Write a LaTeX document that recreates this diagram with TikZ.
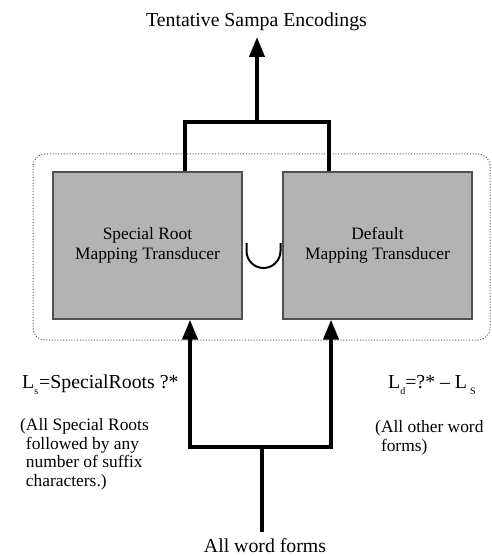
\documentclass[tikz,border=0pt]{standalone}
\usepackage{fontspec}
\setmainfont{Liberation Serif}
\usetikzlibrary{arrows.meta}

\definecolor{boxgray}{RGB}{179,179,179}
\definecolor{boxedge}{RGB}{80,80,80}
\definecolor{frameedge}{RGB}{90,90,90}

\tikzset{
  bigtext/.style={font=\fontsize{19.8}{22}\selectfont, inner sep=0pt},
  smalltext/.style={font=\fontsize{17.4}{18.8}\selectfont, inner sep=0pt},
  transducer/.style={draw=boxedge, line width=1.3pt, fill=boxgray,
    minimum width=189pt, minimum height=147pt, inner sep=0pt, align=center,
    font=\fontsize{17.4}{20}\selectfont},
  conn/.style={line width=4pt, miter limit=10, line join=miter},
  tip/.style={-{Triangle[length=20pt, width=15pt]}},
  frame/.style={draw=frameedge, line width=1pt, dash pattern=on 1pt off 1.8pt,
    rounded corners=12pt},
}

\newcommand{\lowsub}[1]{\raisebox{-6.5pt}{\fontsize{10}{10}\selectfont #1}}

\begin{document}
\begin{tikzpicture}[x=1pt, y=-1pt]
  \useasboundingbox (0,0) rectangle (491,556);

  % dotted enclosure of the union of both transducers
  \draw[frame] (33,154) rectangle (490,340);

  % the two transducers
  \node[transducer] (lbox) at (147.5,245.5) {Special Root\\Mapping Transducer};
  \node[transducer] (rbox) at (377.5,245.5) {Default\\Mapping Transducer};

  % union sign between them (y axis points down, so 90 degrees is downwards)
  \draw[line width=2pt] (246.5,243) -- (246.5,251) arc[start angle=180, end angle=0, radius=17] -- (280.5,243);

  % output and input texts
  \node[bigtext, anchor=base, inner ysep=5.5pt] (out) at (256.5,27) {Tentative Sampa Encodings};
  \node[bigtext, anchor=base, inner ysep=5.6pt] (in) at (265,552) {All word forms};

  % language labels
  \node[bigtext, anchor=base west] (ls) at (22,388) {L\lowsub{s}\kern1pt=SpecialRoots ?*};
  \node[bigtext, anchor=base west] (ld) at (388,388) {L\lowsub{d}=?* -- L\kern3pt\lowsub{S}};
  \node[smalltext, anchor=north west, align=left] (lsnote) at (20,418)
    {(All Special Roots\\\hphantom{(}followed by any\\\hphantom{(}number of suffix\\\hphantom{(}characters.)};
  \node[smalltext, anchor=north west, align=left] (ldnote) at (375,420)
    {(All other word\\\hphantom{(}forms)};

  % junction points of the connectors
  \coordinate (tl) at (185,122);
  \coordinate (tm) at (257,122);
  \coordinate (tr) at (329,122);
  \coordinate (bl) at (190,447);
  \coordinate (bm) at (262,447);
  \coordinate (br) at (331,447);

  % outputs merge and go up
  \draw[conn] (tl |- lbox.north) -- (tl) -- (tr) -- (tr |- rbox.north);
  \draw[conn, tip] (tm) -- (tm |- out.south);

  % input splits into both transducers
  \draw[conn, tip] (bm |- in.north) -- (bm) -| (bl |- lbox.south);
  \draw[conn, tip] (bm) -| (br |- rbox.south);
\end{tikzpicture}
\end{document}
